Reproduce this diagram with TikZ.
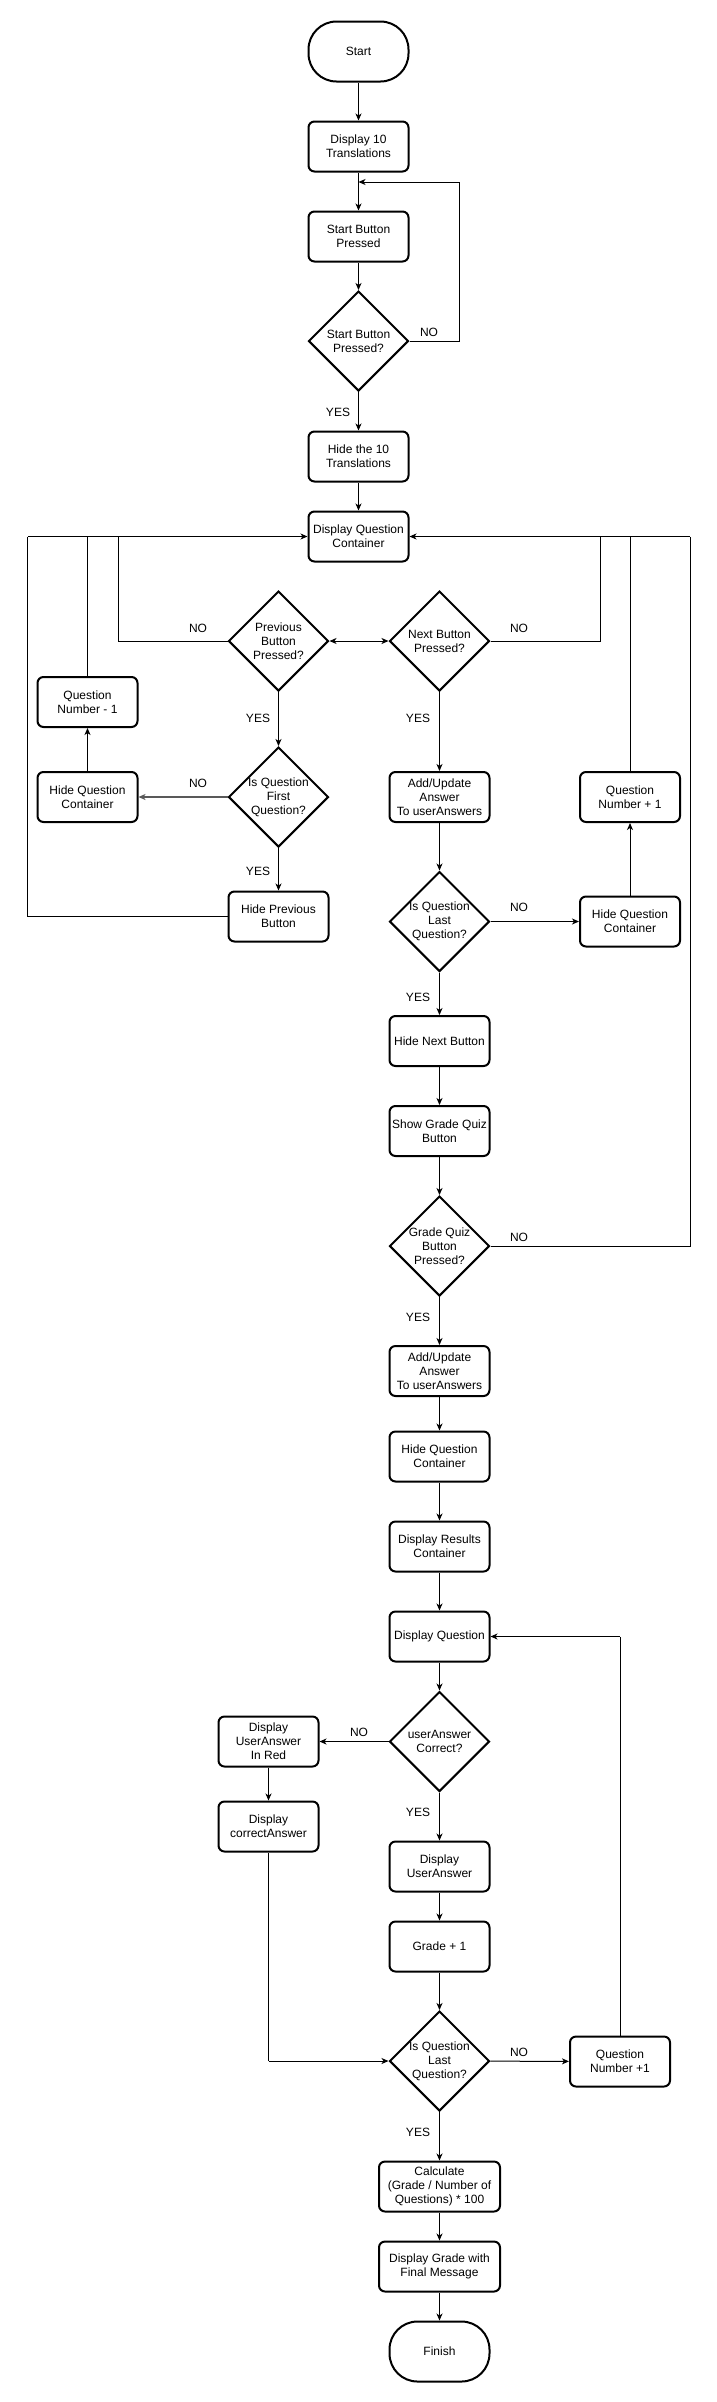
\documentclass[tikz,border=0pt]{standalone}
\usepackage{fontspec}
\setmainfont{Liberation Sans}
\usetikzlibrary{arrows.meta,shapes.geometric}
\begin{document}
\begin{tikzpicture}[x=1pt,y=-1pt,
  every node/.style={font=\fontsize{12}{14}\selectfont, inner sep=0pt, align=center},
  proc/.style={draw, line width=2pt, rounded corners=6pt, minimum width=100pt, minimum height=50pt},
  wideproc/.style={proc, minimum width=121pt},
  term/.style={draw, line width=2pt, rounded corners=28pt, minimum width=100pt, minimum height=60pt},
  dec/.style={draw, line width=2pt, diamond, aspect=1, minimum width=100pt, minimum height=100pt, inner sep=0pt},
  conn/.style={line width=1pt, -{Stealth[length=7pt,width=6pt,inset=2pt]}},
  line/.style={line width=1pt},
  lbl/.style={font=\fontsize{12}{14}\selectfont}
]
\useasboundingbox (0,0) rectangle (716,2402);
% main column
\node[term] (start) at (358.5,51.5) {Start};
\node[proc] (d10) at (358.5,146.5) {Display 10\\Translations};
\node[proc] (sbp) at (358.5,236.5) {Start Button\\Pressed};
\node[dec] (sbd) at (358.5,341) {Start Button\\Pressed?};
\node[proc] (h10) at (358.5,456.5) {Hide the 10\\Translations};
\node[proc] (dqc) at (358.5,536.5) {Display Question\\Container};
% previous column
\node[dec] (prev) at (278.5,641) {Previous\\Button\\Pressed?};
\node[dec] (first) at (278.5,797) {Is Question\\First\\Question?};
\node[proc] (hpb) at (278.5,916.5) {Hide Previous\\Button};
% far left column
\node[proc] (qnm) at (87.5,702) {Question\\Number - 1};
\node[proc] (hqcl) at (87.5,797) {Hide Question\\Container};
% next column
\node[dec] (next) at (439.5,641) {Next Button\\Pressed?};
\node[proc] (au1) at (439.5,797) {Add/Update\\Answer\\To userAnswers};
\node[dec] (last1) at (439.5,921.5) {Is Question\\Last\\Question?};
\node[proc] (hnb) at (439.5,1041) {Hide Next Button};
\node[proc] (sgq) at (439.5,1131) {Show Grade Quiz\\Button};
\node[dec] (gq) at (439.5,1246) {Grade Quiz\\Button\\Pressed?};
\node[proc] (au2) at (439.5,1371) {Add/Update\\Answer\\To userAnswers};
\node[proc] (hqc2) at (439.5,1456.5) {Hide Question\\Container};
\node[proc] (drc) at (439.5,1546.5) {Display Results\\Container};
\node[proc] (dq) at (439.5,1636.5) {Display Question};
\node[dec] (uac) at (439.5,1741.5) {userAnswer\\Correct?};
\node[proc] (dua) at (439.5,1866.5) {Display\\UserAnswer};
\node[proc] (g1) at (439.5,1946.5) {Grade + 1};
\node[dec] (last2) at (439.5,2061) {Is Question\\Last\\Question?};
\node[wideproc] (calc) at (439.5,2186.5) {Calculate\\(Grade / Number of\\Questions) * 100};
\node[wideproc] (dgfm) at (439.5,2266.5) {Display Grade with\\Final Message};
\node[term] (fin) at (439.5,2351.5) {Finish};
% right column
\node[proc] (qnp) at (630,797) {Question\\Number + 1};
\node[proc] (hqcr) at (630,921.5) {Hide Question\\Container};
\node[proc] (qnp2) at (620,2061.5) {Question\\Number +1};
% red column
\node[proc] (duar) at (268.5,1741.5) {Display\\UserAnswer\\In Red};
\node[proc] (dca) at (268.5,1826.5) {Display\\correctAnswer};

% coordinates for loops
\coordinate (loopA) at (358.5,182);
\coordinate (rA) at (459,182);
\coordinate (ql) at (308.5,536.5);

% connectors top
\draw[conn] (start) -- (d10);
\draw[conn] (d10) -- (sbp);
\draw[conn] (sbp) -- (sbd);
\draw[line] (sbd.east) -- (459,341) -- (rA);
\draw[conn] (rA) -- (loopA);
\draw[conn] (sbd) -- (h10);
\draw[conn] (h10) -- (dqc);
\node[lbl] at (429,332) {NO};
\node[lbl] at (338,412) {YES};

% left loops
\draw[line] (prev.west) -- (118,641) -- (118,536.5);
\draw[line] (qnm.north) -- (87.5,536.5);
\draw[line] (hpb.west) -- (27.5,916.5) -- (27.5,536.5);
\draw[conn] (27.5,536.5) -- (dqc.west);
\node[lbl] at (198,628) {NO};
% right loops
\draw[line] (next.east) -- (600,641) -- (600,536.5);
\draw[line] (qnp.north) -- (630,536.5);
\draw[line] (gq.east) -- (690,1246) -- (690,536.5);
\draw[conn] (690,536.5) -- (dqc.east);
\node[lbl] at (519,628) {NO};
% double arrow
\draw[line width=1pt, {Stealth[length=7pt,width=6pt,inset=2pt]}-{Stealth[length=7pt,width=6pt,inset=2pt]}] (prev.east) -- (next.west);

% previous branch
\draw[conn] (prev) -- (first);
\node[lbl] at (258,718) {YES};
\draw[conn, draw=black!65, line width=2pt] (first.west) -- (hqcl.east);
\node[lbl] at (198,783) {NO};
\draw[conn] (hqcl) -- (qnm);
\draw[conn] (first) -- (hpb);
\node[lbl] at (258,871) {YES};

% next branch
\draw[conn] (next) -- (au1);
\node[lbl] at (418,718) {YES};
\draw[conn] (au1) -- (last1);
\draw[conn] (last1) -- (hqcr);
\node[lbl] at (519,907) {NO};
\draw[conn] (hqcr) -- (qnp);
\draw[conn] (last1) -- (hnb);
\node[lbl] at (418,997) {YES};
\draw[conn] (hnb) -- (sgq);
\draw[conn] (sgq) -- (gq);
\node[lbl] at (519,1237) {NO};
\draw[conn] (gq) -- (au2);
\node[lbl] at (418,1317) {YES};
\draw[conn] (au2) -- (hqc2);
\draw[conn] (hqc2) -- (drc);
\draw[conn] (drc) -- (dq);
\draw[conn] (dq) -- (uac);
\draw[conn] (uac) -- (duar);
\node[lbl] at (359,1732) {NO};
\draw[conn] (duar) -- (dca);
\draw[line] (dca.south) -- (268.5,2061);
\draw[conn] (268.5,2061) -- (last2.west);
\draw[conn] (uac) -- (dua);
\node[lbl] at (418,1812) {YES};
\draw[conn] (dua) -- (g1);
\draw[conn] (g1) -- (last2);
\draw[conn] (last2) -- (qnp2);
\node[lbl] at (519,2052) {NO};
\draw[line] (qnp2.north) -- (620,1636.5);
\draw[conn] (620,1636.5) -- (dq.east);
\draw[conn] (last2) -- (calc);
\node[lbl] at (418,2132) {YES};
\draw[conn] (calc) -- (dgfm);
\draw[conn] (dgfm) -- (fin);
\end{tikzpicture}
\end{document}
